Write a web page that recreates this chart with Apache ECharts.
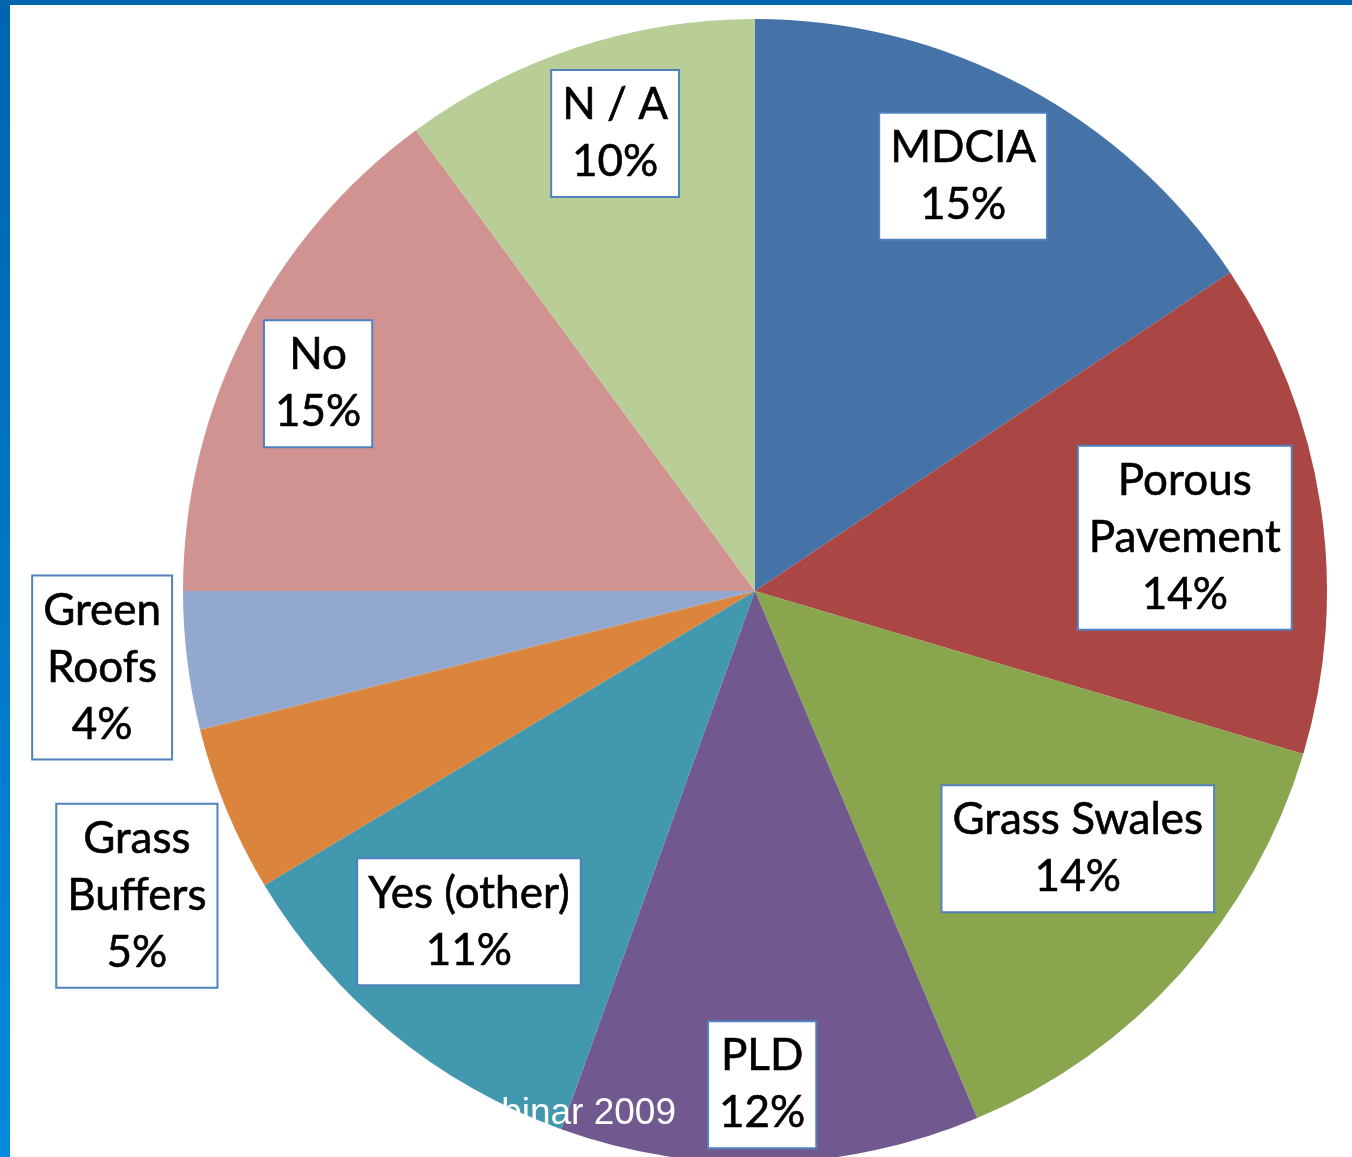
<!DOCTYPE html>
<html>
<head>
<meta charset="utf-8">
<script src="https://cdn.jsdelivr.net/npm/echarts@6/dist/echarts.min.js"></script>
<style>
html, body { margin: 0; padding: 0; background: #fff; }
#main { width: 1352px; height: 1157px; }
</style>
</head>
<body>
<div id="main"></div>
<script>
// slices clockwise from 12 o'clock
var categories = ['MDCIA', 'Porous Pavement', 'Grass Swales', 'PLD', 'Yes (other)', 'Grass Buffers', 'Green Roofs', 'No', 'N / A'];
var values = [15.6, 14.0, 14.05, 11.85, 10.9, 4.7, 3.9, 14.9, 10.1];
// percentages as printed on the slide
var shownPercent = [15, 14, 14, 12, 11, 5, 4, 15, 10];
var labelNames = ['MDCIA', 'Porous\nPavement', 'Grass Swales', 'PLD', 'Yes (other)', 'Grass\nBuffers', 'Green\nRoofs', 'No', 'N / A'];

var colors = ['#4572A7', '#AA4643', '#89A54E', '#71588F', '#4198AF', '#DB843D', '#93A9CF', '#D19392', '#B9CD96'];

var pieCenter = [755, 591];
var pieRadius = 572;
// how far out each label box sits, as a share of the radius, plus a small nudge
var labelDist = [0.81, 0.76, 0.72, 0.86, 0.76, 1.20, 1.15, 0.85, 0.84];
var labelNudge = [[-10, -6], [0, 12], [16, -17], [-6, 2], [-10, -5], [16, 42], [0, -4], [-3, 12], [10, -1]];

var myChart = echarts.init(document.getElementById('main'));

var pieData = categories.map(function (name, i) {
    return {name: name, value: values[i]};
});

var option = {
    animation: false,
    color: colors,
    graphic: [
        {
            type: 'rect',
            z: 10,
            shape: {x: 0, y: 0, width: 10, height: 1157},
            style: {
                fill: new echarts.graphic.LinearGradient(0, 0, 0, 1, [
                    {offset: 0, color: '#0064AE'},
                    {offset: 1, color: '#008ADF'}
                ])
            }
        },
        {
            type: 'rect',
            z: 10,
            shape: {x: 0, y: 0, width: 1352, height: 5},
            style: {fill: '#0066B0'}
        },
        {
            type: 'text',
            z: 10,
            x: 676,
            y: 1114,
            style: {
                text: 'Webinar 2009',
                fill: '#ffffff',
                font: '37px "Liberation Sans", Arial, sans-serif',
                align: 'right',
                verticalAlign: 'middle',
                textAlign: 'right',
                textVerticalAlign: 'middle'
            }
        }
    ],
    series: [
        {
            type: 'pie',
            center: pieCenter,
            radius: pieRadius,
            startAngle: 90,
            clockwise: true,
            emphasis: {disabled: true},
            itemStyle: {borderWidth: 0},
            label: {
                show: true,
                position: 'inside',
                formatter: function (p) {
                    return labelNames[p.dataIndex] + '\n' + shownPercent[p.dataIndex] + '%';
                },
                color: '#000',
                fontFamily: 'Lato',
                fontSize: 44,
                lineHeight: 57,
                textBorderColor: '#000',
                textBorderWidth: 0.6,
                align: 'center',
                backgroundColor: '#fff',
                borderColor: '#4F81BD',
                borderWidth: 2,
                padding: [6, 10, 5, 10]
            },
            labelLine: {show: false},
            labelLayout: function (params) {
                var r = params.labelRect;
                var i = params.dataIndex;
                var lx = r.x + r.width / 2 - pieCenter[0];
                var ly = r.y + r.height / 2 - pieCenter[1];
                var len = Math.sqrt(lx * lx + ly * ly) || 1;
                var d = labelDist[i] * pieRadius;
                return {
                    x: pieCenter[0] + lx / len * d + labelNudge[i][0],
                    y: pieCenter[1] + ly / len * d + labelNudge[i][1],
                    align: 'center',
                    verticalAlign: 'middle'
                };
            },
            data: pieData
        }
    ]
};

myChart.setOption(option);
</script>
</body>
</html>
